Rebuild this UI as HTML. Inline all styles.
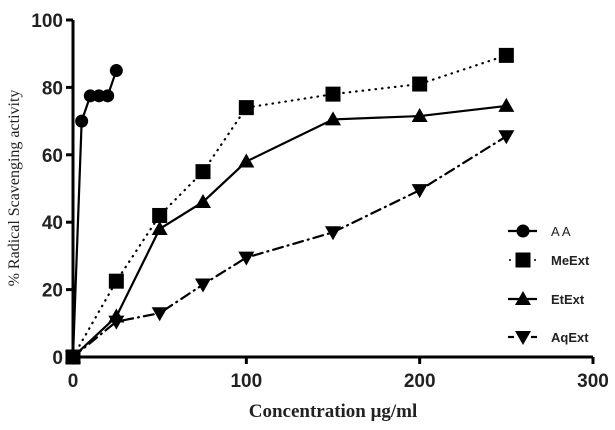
<!DOCTYPE html>
<html><head><meta charset="utf-8"><style>body{margin:0;background:#fff}svg{display:block}</style></head>
<body>
<svg id="c" width="615" height="430" xmlns="http://www.w3.org/2000/svg"></svg>
<script>
const xTicks=[0,100,200,300];
const yTicks=[0,20,40,60,80,100];
const aaX=[0,5,10,15,20,25];
const aaY=[0,70,77.5,77.5,77.5,85];
const extX=[0,25,50,75,100,150,200,250];
const meY=[0,22.5,42,55,74,78,81,89.5];
const etY=[0,12,38,46,58,70.5,71.5,74.5];
const aqY=[0,10.5,13,21.5,29.5,37,49.5,65.5];
const seriesNames=["AA","MeExt","EtExt","AqExt"];

const svg=document.getElementById('c');const NS="http://www.w3.org/2000/svg";
const X0=73,X1=593,Y0=357,Y1=20;
const sx=v=>X0+(v-0)/300*(X1-X0);
const sy=v=>Y0-(v/100)*(Y0-Y1);
function mk(t,a,p){const e=document.createElementNS(NS,t);for(const k in a)e.setAttribute(k,a[k]);(p||svg).appendChild(e);return e;}
function marker(type,x,y,g){
 if(type==='circle')return mk('circle',{cx:x,cy:y,r:6.5,fill:'#000'},g);
 if(type==='square')return mk('rect',{x:x-7.5,y:y-7.5,width:15,height:15,fill:'#000'},g);
 if(type==='up')return mk('polygon',{points:`${x},${y-8} ${x-8},${y+6} ${x+8},${y+6}`,fill:'#000'},g);
 return mk('polygon',{points:`${x},${y+8} ${x-8},${y-6} ${x+8},${y-6}`,fill:'#000'},g);
}
let ax=mk('line',{x1:X0,y1:Y0,x2:X1,y2:Y0,stroke:'#000','stroke-width':3});

let ay=mk('line',{x1:X0,y1:Y0,x2:X0,y2:Y1,stroke:'#000','stroke-width':3});

xTicks.forEach(v=>{const x=sx(v);mk('line',{x1:x,y1:Y0,x2:x,y2:Y0+7,stroke:'#000','stroke-width':3});
 const t=mk('text',{x:x,y:Y0+30,'text-anchor':'middle','font-family':'Liberation Sans, sans-serif','font-weight':'bold','font-size':19,fill:'#222'});t.textContent=v;
 });
yTicks.forEach(v=>{const y=sy(v);mk('line',{x1:X0-7,y1:y,x2:X0,y2:y,stroke:'#000','stroke-width':3});
 const t=mk('text',{x:X0-10,y:y+7,'text-anchor':'end','font-family':'Liberation Sans, sans-serif','font-weight':'bold','font-size':19,fill:'#222'});t.textContent=v;
 });
let xt=mk('text',{x:333,y:417,'text-anchor':'middle','font-family':'Liberation Serif, serif','font-weight':'bold','font-size':19,fill:'#222'});
xt.textContent='Concentration μg/ml';
let yt=mk('text',{x:0,y:0,transform:'translate(19,188) rotate(-90)','text-anchor':'middle','font-family':'Liberation Serif, serif','font-size':16,fill:'#222'});
yt.textContent='% Radical Scavenging activity';

const series=[
 {xs:aaX,ys:aaY,m:'circle',dash:'',name:'series-aa'},
 {xs:extX,ys:meY,m:'square',dash:'0.5,6',name:'series-meext'},
 {xs:extX,ys:etY,m:'up',dash:'',name:'series-etext'},
 {xs:extX,ys:aqY,m:'down',dash:'10,5,1,5',name:'series-aqext'}];
series.forEach((s,i)=>{
 const g=mk('g',{});
 const pts=s.xs.map((x,j)=>sx(x)+','+sy(s.ys[j])).join(' ');
 mk('polyline',{points:pts,fill:'none',stroke:'#000','stroke-width':2.2,'stroke-dasharray':s.dash,'stroke-linecap':s.dash?'round':'butt'},g);
 s.xs.forEach((x,j)=>marker(s.m,sx(x),sy(s.ys[j]),g));
 const ly=[231,260,299,337][i];
 const lg=mk('g',{});
 if(i===1){mk('circle',{cx:510,cy:ly,r:1,fill:'#000'},lg);mk('circle',{cx:535,cy:ly,r:1,fill:'#000'},lg);}
 else if(i===3){mk('line',{x1:508,y1:ly,x2:514,y2:ly,stroke:'#000','stroke-width':2.2},lg);mk('line',{x1:531,y1:ly,x2:537,y2:ly,stroke:'#000','stroke-width':2.2},lg);}
 else mk('line',{x1:508,y1:ly,x2:537,y2:ly,stroke:'#000','stroke-width':2.2},lg);
 marker(s.m,523,ly,lg);
 const t=mk('text',{x:551,y:ly+5,'font-family':'Liberation Sans, sans-serif','font-weight':i==0?'normal':'bold','font-size':13,fill:'#222'},lg);
 t.textContent=seriesNames[i]==='AA'?'A A':seriesNames[i];
});
</script>
</body></html>
